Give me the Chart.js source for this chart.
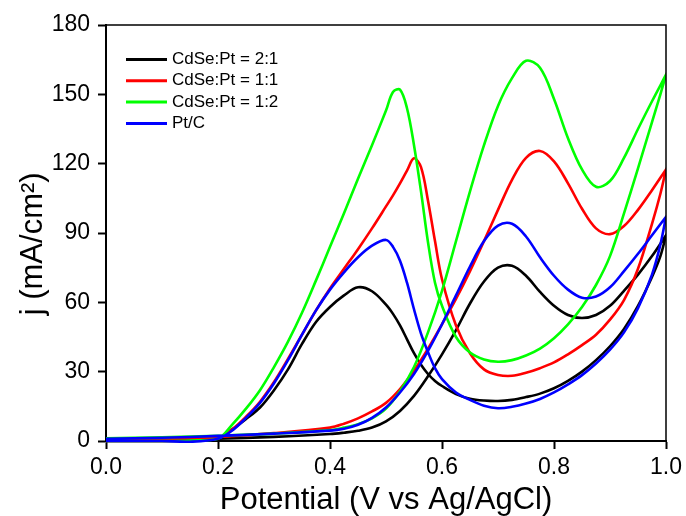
<!DOCTYPE html>
<html>
<head>
<meta charset="utf-8">
<script src="https://cdn.jsdelivr.net/npm/chart.js@4"></script>
<style>
html,body{margin:0;padding:0;background:#ffffff;}
#wrap{width:686px;height:516px;}
</style>
</head>
<body>
<div id="wrap"><canvas id="c" width="686" height="516"></canvas></div>
<script>
// ---------- data ----------
const seriesLabels = ['CdSe:Pt = 2:1', 'CdSe:Pt = 1:1', 'CdSe:Pt = 1:2', 'Pt/C'];

// potential grid for the forward (anodic) sweep, V
const potentialForward = [0, 0.1, 0.2, 0.3, 0.4, 0.425, 0.45, 0.475, 0.5, 0.525, 0.55, 0.575, 0.6, 0.625, 0.65, 0.675, 0.7, 0.725, 0.75, 0.775, 0.8, 0.825, 0.85, 0.875, 0.9, 0.925, 0.95, 0.975, 1.0];
// potential grid for the reverse sweep, V
const potentialReverse = [1.0, 0.99, 0.975, 0.95, 0.925, 0.9, 0.875, 0.85, 0.825, 0.8, 0.775, 0.75, 0.725, 0.7, 0.675, 0.65, 0.625, 0.6, 0.5875, 0.575, 0.5625, 0.55, 0.5375, 0.525, 0.5125, 0.5, 0.475, 0.45, 0.425, 0.4, 0.375, 0.35, 0.325, 0.3, 0.275, 0.25, 0.225, 0.2, 0.15, 0.1, 0.0];

// current density j (mA/cm2)
const j21Forward = [0.2, 0.5, 1.0, 1.8, 3.0, 3.6, 4.4, 5.8, 8.5, 13, 19.5, 28, 37.5, 48, 59.5, 69, 75, 75.8, 71.5, 64.5, 58.5, 54.5, 53.2, 54.5, 58.5, 65, 72, 80, 89];
const j21Reverse = [89, 80, 71, 58.5, 48.5, 41, 35, 30, 26, 22.8, 20.5, 19, 17.8, 17.3, 17.5, 18.3, 20.3, 23.8, 26, 29, 33, 38, 44, 50, 55, 59, 64.8, 66.5, 63, 58, 51.5, 42, 31, 22, 14.5, 9.5, 5, 1.4, 0.3, 0, 0];

const j11Forward = [0.5, 1.0, 1.8, 3.4, 5.8, 7.5, 9.8, 12.8, 16.5, 22.5, 30.5, 40, 50.5, 61.5, 73.5, 86.5, 100, 113, 122.5, 125.5, 121, 111.5, 100.5, 92, 89.5, 93, 100, 108.5, 117.5];
const j11Reverse = [117.5, 107, 94, 74.5, 61, 52.5, 46, 41.5, 37.5, 34, 31.5, 29.5, 28.2, 28.6, 31, 38, 50, 70, 86.5, 104, 118.5, 122.3, 117, 111.5, 106.3, 101.5, 92, 83, 74.5, 66, 56.5, 46, 35.5, 25.5, 17, 10.5, 5, 1.2, 0.1, 0, 0];

const j12Forward = [1.2, 1.6, 2.3, 3.2, 4.7, 5.8, 7.3, 9.8, 14, 21.5, 32, 47, 65, 86.5, 108, 128, 145, 157, 164.5, 161.5, 148, 131, 117.5, 110, 112.5, 122.5, 135, 147, 158.5];
const j12Reverse = [158.5, 150, 138, 118, 98.5, 80, 67.5, 58, 50.5, 44.5, 40, 37, 35, 34.3, 35.3, 38.3, 45, 58.5, 68.5, 86, 108, 128, 144, 152, 151, 143, 128, 113.5, 98.5, 84, 69.5, 55.5, 43, 32, 22, 14, 7, 1, 0.2, 0, 0];

const jPtCForward = [1.0, 1.4, 2.2, 3.2, 4.5, 5.3, 7, 10, 14.5, 21, 29, 39, 50.5, 63, 75.5, 86.5, 93.2, 94, 88.5, 79.5, 71.5, 65.5, 62, 62.5, 66.5, 73.5, 81, 89, 97];
const jPtCReverse = [97, 85, 72, 57.5, 47, 39.5, 33.5, 28.5, 24.5, 21, 18.2, 16.2, 14.8, 14.2, 15.3, 17.8, 21, 26.8, 31.5, 38.5, 46.5, 57, 68.5, 78, 84, 87, 84.5, 79.5, 73, 65.5, 56.5, 46, 35, 25, 16.5, 10, 4.5, 1, -0.3, 0, 0];

const xTickStep = 0.2;
const yTickStep = 30;

// ---------- styles ----------
const seriesColors = ['#000000', '#ff0000', '#00ff00', '#0000ff'];
const FONT = '"Liberation Sans", Arial, Helvetica, sans-serif';

function loop(fwd, rev) {
  const pts = potentialForward.map((x, i) => ({x: x, y: fwd[i]}));
  return pts.concat(potentialReverse.map((x, i) => ({x: x, y: rev[i]})));
}

const curves = [
  loop(j21Forward, j21Reverse),
  loop(j11Forward, j11Reverse),
  loop(j12Forward, j12Reverse),
  loop(jPtCForward, jPtCReverse)
];

const datasets = curves.map((d, i) => ({
  label: seriesLabels[i],
  data: d,
  borderColor: seriesColors[i],
  backgroundColor: seriesColors[i],
  borderWidth: 2.6,
  pointRadius: 0,
  showLine: true,
  fill: false,
  tension: 0.35,
  order: seriesLabels.length - i,
  clip: {left: 5, top: 5, right: 0, bottom: 5}
}));

const framePlugin = {
  id: 'frameAndLegend',
  afterDatasetsDraw(chart) {
    const {ctx, chartArea: a} = chart;
    ctx.save();
    ctx.strokeStyle = '#000';
    ctx.lineWidth = 1.5;
    ctx.beginPath();
    ctx.moveTo(a.left, a.top);
    ctx.lineTo(a.right, a.top);
    ctx.lineTo(a.right, a.bottom);
    ctx.stroke();
    ctx.font = '17px ' + FONT;
    ctx.textBaseline = 'middle';
    ctx.textAlign = 'left';
    chart.data.datasets.forEach((ds, i) => {
      const y = a.top + 34.5 + i * 21.3;
      ctx.strokeStyle = ds.borderColor;
      ctx.lineWidth = 3;
      ctx.beginPath();
      ctx.moveTo(a.left + 20, y);
      ctx.lineTo(a.left + 61, y);
      ctx.stroke();
      ctx.fillStyle = '#000';
      ctx.fillText(ds.label, a.left + 66, y);
    });
    ctx.restore();
  }
};

new Chart(document.getElementById('c'), {
  type: 'scatter',
  data: {datasets: datasets},
  options: {
    responsive: false,
    animation: false,
    devicePixelRatio: 1,
    layout: {padding: {top: 25, right: 20, bottom: 0, left: 0}},
    plugins: {legend: {display: false}, tooltip: {enabled: false}},
    scales: {
      x: {
        type: 'linear',
        min: 0,
        max: 1,
        ticks: {
          stepSize: xTickStep,
          callback: v => Number(v).toFixed(1),
          color: '#000',
          font: {family: FONT, size: 23},
          padding: 5,
          maxRotation: 0
        },
        grid: {drawOnChartArea: false, drawTicks: true, tickLength: 8, tickColor: '#000', tickWidth: 2},
        border: {color: '#000', width: 2},
        title: {
          display: true,
          text: 'Potential (V vs Ag/AgCl)',
          color: '#000',
          font: {family: FONT, size: 31, lineHeight: 1},
          padding: {top: 0, bottom: 0}
        },
        afterFit(s) { s.height = 75; s.paddingLeft = 0; s.paddingRight = 0; }
      },
      y: {
        type: 'linear',
        min: 0,
        max: 180,
        ticks: {
          stepSize: yTickStep,
          color: '#000',
          font: {family: FONT, size: 23},
          padding: 8
        },
        grid: {drawOnChartArea: false, drawTicks: true, tickLength: 8, tickColor: '#000', tickWidth: 2},
        border: {color: '#000', width: 2},
        title: {
          display: true,
          text: 'j (mA/cm\u00B2)\u2002\u2009',
          color: '#000',
          font: {family: FONT, size: 31, lineHeight: 1},
          padding: {top: 17.5, bottom: 0}
        },
        afterFit(s) { s.width = 106; s.paddingTop = 0; s.paddingBottom = 0; }
      }
    }
  },
  plugins: [framePlugin]
});
</script>
</body>
</html>
